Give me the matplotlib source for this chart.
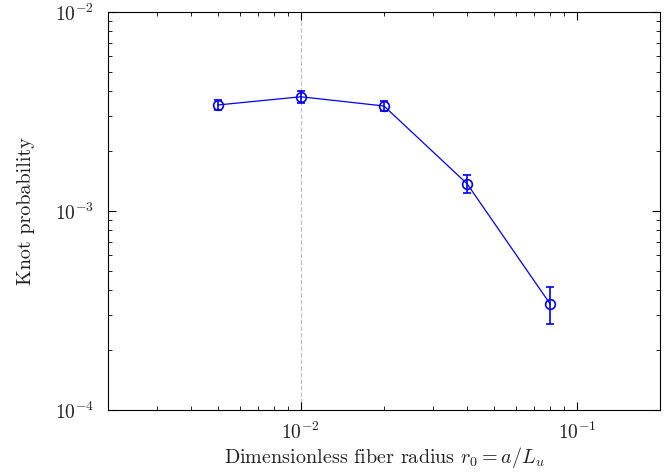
import matplotlib
matplotlib.use("Agg")
import matplotlib.pyplot as plt

plt.rcParams['font.family'] = 'serif'
plt.rcParams['font.serif'] = ['cmr10', 'DejaVu Serif']
plt.rcParams['mathtext.fontset'] = 'cm'
plt.rcParams['axes.formatter.use_mathtext'] = True

radius = [0.005, 0.01, 0.02, 0.04, 0.08]
knot_prob = [3.41e-3, 3.75e-3, 3.37e-3, 1.37e-3, 3.41e-4]
err_low = [0.20e-3, 0.25e-3, 0.20e-3, 0.14e-3, 0.72e-4]
err_high = [0.20e-3, 0.25e-3, 0.20e-3, 0.14e-3, 0.72e-4]

fig = plt.figure(figsize=(6.71, 4.74), dpi=100)
ax = fig.add_axes([0.161, 0.135, 0.8226, 0.8397])

ax.axvline(0.01, color='#c4c4c4', linestyle='--', linewidth=0.9, zorder=0)
ax.errorbar(radius, knot_prob, yerr=[err_low, err_high], color='blue',
            marker='o', markersize=7, markerfacecolor='none', markeredgewidth=1.2,
            linewidth=0.9, elinewidth=1.2, capsize=3, capthick=1.2)

ax.set_xscale('log')
ax.set_yscale('log')
ax.set_xlim(0.002, 0.2)
ax.set_ylim(1e-4, 1e-2)
ax.tick_params(which='both', direction='in', top=True, right=True,
               labelsize=14, labelcolor='#222222')
ax.tick_params(which='major', length=6)
ax.tick_params(which='minor', length=3)
ax.tick_params(axis='y', pad=10)
ax.tick_params(axis='x', pad=8)

ax.set_xlabel(r'Dimensionless fiber radius $r_0 = a/L_u$', fontsize=14.5,
              color='#222222', labelpad=2)
ax.set_ylabel('Knot probability', fontsize=14.5, color='#222222', labelpad=14)

fig.savefig('out.png', dpi=100)
